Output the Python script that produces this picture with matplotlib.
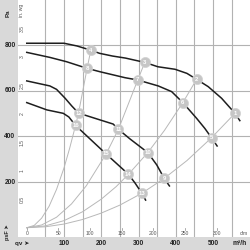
import matplotlib
matplotlib.use("Agg")
import matplotlib.pyplot as plt
import matplotlib.transforms as mtransforms

plt.rcParams['font.family'] = ['Liberation Sans', 'DejaVu Sans']

# ---- data (m3/h, Pa) ----
curveA_q = [0, 100, 135, 155, 172, 195, 230, 265, 317, 352, 398, 430, 456, 487, 523, 559, 572]
curveA_p = [808, 808, 796, 786, 778, 764, 752, 743, 724, 705, 694, 676, 650, 618, 567, 501, 469]
curveB_q = [0, 62, 107, 162, 197, 264, 298, 353, 389, 419, 456, 478, 496, 511]
curveB_p = [768, 746, 727, 698, 683, 657, 647, 621, 596, 548, 479, 435, 394, 358]
curveC_q = [0, 62, 80, 103, 121, 139, 197, 232, 246, 277, 325, 349, 369, 383]
curveC_p = [643, 621, 606, 567, 533, 502, 472, 454, 431, 389, 329, 275, 216, 183]
curveD_q = [0, 54, 98, 113, 131, 213, 273, 291, 309, 319]
curveD_p = [548, 516, 501, 485, 448, 323, 234, 195, 151, 121]

sys1_q = [0, 50, 100, 150, 200, 250, 309, 369, 430, 496, 559]
sys1_p = [0, 4, 16, 36, 64, 99, 151, 216, 294, 394, 501]
sys2_q = [0, 50, 100, 150, 200, 240, 273, 325, 370, 419, 456]
sys2_p = [0, 8, 31, 70, 125, 180, 234, 329, 427, 548, 650]
sys3_q = [0, 40, 80, 120, 160, 213, 246, 298, 317]
sys3_p = [0, 12, 46, 104, 184, 323, 431, 647, 725]
sys4_q = [0, 20, 40, 60, 80, 100, 115, 131, 139, 162, 172]
sys4_p = [0, 10, 42, 94, 168, 262, 347, 448, 502, 698, 778]

marker_ids = [1, 2, 3, 4, 5, 6, 7, 8, 9, 10, 11, 12, 13, 14, 15, 16]
marker_q = [559, 456, 317, 172, 496, 419, 298, 162, 369, 325, 246, 139, 309, 273, 213, 131]
marker_p = [501, 650, 725, 778, 394, 548, 647, 698, 216, 329, 431, 502, 151, 234, 323, 448]

pa_ticks = [200, 400, 600, 800]
m3h_ticks = [100, 200, 300, 400, 500]
grid_q = [50, 100, 150, 200, 250, 300, 350, 400, 450, 500, 550]
inwg_ticks = [0.5, 1, 1.5, 2, 2.5, 3, 3.5]
inwg_labels = ['0.5', '1', '1.5', '2', '2.5', '3', '3.5']
cfm_ticks = [0, 50, 100, 150, 200, 250, 300]

# ---- figure ----
fig = plt.figure(figsize=(2.5, 2.5), dpi=100)
fig.patch.set_facecolor('#d9d9d9')
ax = fig.add_axes([18/250, 13/250, 232/250, 237/250])
ax.set_facecolor('white')
ax.set_xlim(-23.5, 599.3)
ax.set_ylim(-40.7, 997.4)
for s in ax.spines.values():
    s.set_visible(False)
ax.set_xticks([]); ax.set_yticks([])

gridc = '#b2b2b2'
for q in grid_q:
    ax.axvline(q, color=gridc, lw=0.8, zorder=1)
for p in pa_ticks:
    ax.axhline(p, color=gridc, lw=0.8, zorder=1)

sysc = '#b8b8b8'
for qs, ps in [(sys1_q, sys1_p), (sys2_q, sys2_p), (sys3_q, sys3_p), (sys4_q, sys4_p)]:
    ax.plot(qs, ps, color=sysc, lw=0.7, zorder=2)

for qs, ps in [(curveA_q, curveA_p), (curveB_q, curveB_p), (curveC_q, curveC_p), (curveD_q, curveD_p)]:
    ax.plot(qs, ps, color='#1e1e1e', lw=1.1, zorder=3, solid_joinstyle='round')

ax.plot(marker_q, marker_p, 'o', ms=7.3, mfc='#c6c6c6', mec='#d2d2d2', mew=0.5, zorder=4, ls='none')
for i, q, p in zip(marker_ids, marker_q, marker_p):
    ax.text(q, p, str(i), color='white', fontsize=4.3, fontweight='bold',
            ha='center', va='center', zorder=5)

# left strip labels
tl = mtransforms.blended_transform_factory(fig.transFigure, ax.transData)
for p in pa_ticks:
    ax.text(10/250, p, str(p), transform=tl, fontsize=4.8, fontweight='bold',
            ha='center', va='center', color='#222222', clip_on=False)
ax.text(8/250, 938, 'Pa', transform=tl, fontsize=4.5, fontweight='bold', rotation=90,
        ha='center', va='center', color='#222222', clip_on=False)
ax.text(8/250, -20, 'psF ➤', transform=tl, fontsize=4.0, fontweight='bold', rotation=90,
        ha='center', va='center', color='#222222', clip_on=False)

# in. wg labels inside plot
for v, lab in zip(inwg_ticks, inwg_labels):
    ax.text(22/250, v * 249.09, lab, transform=tl, fontsize=3.6, rotation=90,
            ha='center', va='center', color='#555555', clip_on=False)
ax.text(22/250, 950, 'in. wg', transform=tl, fontsize=3.6, rotation=90,
        ha='center', va='center', color='#555555', clip_on=False)

# bottom strip labels
tb = mtransforms.blended_transform_factory(ax.transData, fig.transFigure)
for q in m3h_ticks:
    ax.text(q, 6.5/250, str(q), transform=tb, fontsize=4.8, fontweight='bold',
            ha='center', va='center', color='#222222', clip_on=False)
ax.text(572, 6.5/250, 'm³/h', transform=tb, fontsize=4.8, fontweight='bold',
        ha='center', va='center', color='#222222', clip_on=False)
ax.text(-12, 6.5/250, 'qv ➤', transform=tb, fontsize=4.5, fontweight='bold',
        ha='center', va='center', color='#222222', clip_on=False)

# cfm labels inside plot
for c in cfm_ticks:
    q = c * 1.699
    ax.text(q, -24, str(c), fontsize=3.6, ha='center', va='center', color='#555555')
    ax.plot([q, q], [-8, 0], color='#888888', lw=0.5, zorder=2)
ax.text(582, -24, 'cfm', fontsize=3.6, ha='center', va='center', color='#555555')

fig.savefig('out.png', dpi=100, facecolor=fig.get_facecolor())
